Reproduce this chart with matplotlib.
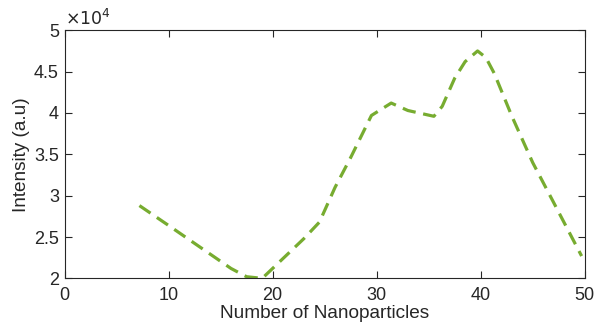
import matplotlib.pyplot as plt
from matplotlib.ticker import FuncFormatter

plt.rcParams['font.family'] = ['Liberation Sans', 'DejaVu Sans']

# values
nanoparticles = [7.2, 10, 13, 16, 17.5, 19, 21, 23, 24.5, 26, 27.5, 29.5, 31.4,
                 33, 35.5, 36.3, 37.5, 38.5, 39.7, 40.5, 41.3, 43, 45, 47, 49.7]
intensity = [28800, 26400, 23800, 21200, 20200, 20000, 22400, 24800, 26800,
             31000, 34600, 39700, 41200, 40300, 39600, 40800, 44200, 46200,
             47500, 46700, 44800, 39600, 34000, 29200, 22700]

xticks = [0, 10, 20, 30, 40, 50]
yticks = [20000, 25000, 30000, 35000, 40000, 45000, 50000]

axcol = '#262626'

fig = plt.figure(figsize=(6.03, 3.31), dpi=100)
ax = fig.add_axes([0.107, 0.159, 0.8627, 0.7495])

ax.plot(nanoparticles, intensity, color='#77AC30', lw=2.3, dashes=(4.2, 2.4))

ax.set_xlim(0, 50)
ax.set_ylim(20000, 50000)
ax.set_xticks(xticks)
ax.set_yticks(yticks)
ax.yaxis.set_major_formatter(FuncFormatter(lambda v, p: '%g' % (v / 1e4)))

ax.tick_params(direction='in', length=5, width=0.8, colors=axcol,
               labelsize=13, top=True, right=True)
ax.tick_params(axis='x', pad=6)
ax.tick_params(axis='y', pad=4)
for s in ax.spines.values():
    s.set_color(axcol)
    s.set_linewidth(0.8)

ax.set_xlabel('Number of Nanoparticles', fontsize=13.7, color=axcol, labelpad=1)
ax.set_ylabel('Intensity (a.u)', fontsize=13.7, color=axcol, labelpad=3)
ax.text(0.0, 1.008, r'$\times10^{4}$', transform=ax.transAxes, fontsize=12.5,
        color=axcol, ha='left', va='bottom')

fig.savefig('out.png', dpi=100)
